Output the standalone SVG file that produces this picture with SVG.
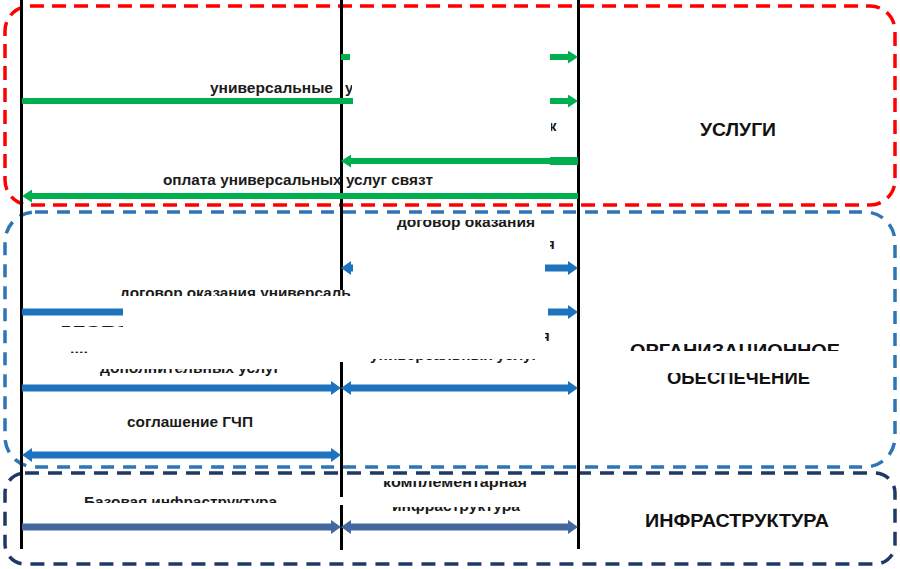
<svg xmlns="http://www.w3.org/2000/svg" width="900" height="569" viewBox="0 0 900 569">
<style>
.bg{fill:#ffffff}
.box{fill:none;stroke-width:3.5;stroke-dasharray:14 8}
.red{stroke:#ff0000}
.blue{stroke:#2e75b6;stroke-dasharray:13 9}
.navy{stroke:#1f3864;stroke-dasharray:14 9}
.vl{stroke:#000000;stroke-width:3}
.g{stroke:#00b050;stroke-width:6;fill:none}
.b{stroke:#1e73be;stroke-width:7;fill:none}
.n{stroke:#44679f;stroke-width:7;fill:none}
.cover{fill:#ffffff}
.t{font-family:"Liberation Sans",Arial,sans-serif;font-weight:bold;font-size:15px;fill:#1a1a1a}
.h{font-family:"Liberation Sans",Arial,sans-serif;font-weight:bold;font-size:18px;fill:#111111}
</style>
<defs>
<marker id="arrG" markerUnits="userSpaceOnUse" markerWidth="10" markerHeight="13" refX="2" refY="6.5" orient="auto-start-reverse"><path d="M0,0 L10,6.5 L0,13 z" fill="#00b050"/></marker>
<marker id="arrB" markerUnits="userSpaceOnUse" markerWidth="10" markerHeight="14" refX="2" refY="7" orient="auto-start-reverse"><path d="M0,0 L10,7 L0,14 z" fill="#1e73be"/></marker>
<marker id="arrN" markerUnits="userSpaceOnUse" markerWidth="10" markerHeight="14" refX="2" refY="7" orient="auto-start-reverse"><path d="M0,0 L10,7 L0,14 z" fill="#44679f"/></marker>
<clipPath id="c1"><rect x="340" y="70" width="12" height="40"/></clipPath>
<clipPath id="c2"><rect x="551" y="110" width="20" height="30"/></clipPath>
<clipPath id="c3"><rect x="380" y="220" width="170" height="12"/></clipPath>
<clipPath id="c4"><rect x="100" y="275" width="251" height="21"/></clipPath>
<clipPath id="c5"><rect x="50" y="310" width="73" height="17"/></clipPath>
<clipPath id="c6"><rect x="90" y="369" width="200" height="12"/></clipPath>
<clipPath id="c7"><rect x="360" y="359" width="190" height="10"/></clipPath>
<clipPath id="c8"><rect x="545" y="325" width="20" height="20"/></clipPath>
<clipPath id="c9"><rect x="620" y="330" width="230" height="21"/></clipPath>
<clipPath id="c10"><rect x="650" y="373" width="180" height="15"/></clipPath>
<clipPath id="c11"><rect x="70" y="485" width="220" height="18"/></clipPath>
<clipPath id="c12"><rect x="370" y="481" width="170" height="12"/></clipPath>
<clipPath id="c13"><rect x="380" y="507" width="150" height="10"/></clipPath>
<clipPath id="c14"><rect x="550" y="235" width="20" height="20"/></clipPath>
</defs>
<rect class="bg" x="0" y="0" width="900" height="569"/>

<g id="zone-uslugi">
<rect class="box red" x="5" y="6" width="890" height="199" rx="25"/>
</g>
<g id="zone-org">
<rect class="box blue" x="5" y="212" width="890" height="255" rx="30"/>
</g>
<g id="zone-infra">
<rect class="box navy" x="5" y="473" width="890" height="91" rx="20"/>
</g>

<g id="lanes">
<line class="vl" x1="21.5" y1="0" x2="21.5" y2="549"/>
<line class="vl" x1="341.5" y1="0" x2="341.5" y2="550"/>
<line class="vl" x1="578.5" y1="0" x2="578.5" y2="549"/>
</g>

<g id="connectors">
<line class="g" x1="341" y1="57" x2="570" y2="57" marker-end="url(#arrG)"/>
<line class="g" x1="22" y1="101" x2="570" y2="101" marker-end="url(#arrG)"/>
<line class="g" x1="578" y1="161" x2="349" y2="161" marker-end="url(#arrG)"/>
<line class="g" x1="550" y1="161" x2="578" y2="161" style="stroke-width:8"/>
<line class="g" x1="578" y1="196" x2="30" y2="196" marker-end="url(#arrG)"/>
<line class="b" x1="349" y1="268" x2="570" y2="268" marker-start="url(#arrB)" marker-end="url(#arrB)"/>
<line class="b" x1="22" y1="312" x2="570" y2="312" marker-end="url(#arrB)"/>
<line class="b" x1="22" y1="388" x2="333" y2="388" marker-end="url(#arrB)"/>
<line class="b" x1="349" y1="388" x2="570" y2="388" marker-start="url(#arrB)" marker-end="url(#arrB)"/>
<line class="b" x1="30" y1="455" x2="333" y2="455" marker-start="url(#arrB)" marker-end="url(#arrB)"/>
<line class="n" x1="22" y1="527" x2="333" y2="527" marker-end="url(#arrN)"/>
<line class="n" x1="349" y1="527" x2="570" y2="527" marker-start="url(#arrN)" marker-end="url(#arrN)"/>
</g>

<g id="covers">
<rect class="cover" x="350" y="49" width="200" height="17"/>
<rect class="cover" x="353" y="93" width="197" height="16"/>
<rect class="cover" x="353" y="259" width="192" height="18"/>
<rect class="cover" x="123" y="304" width="425" height="16"/>
<rect class="cover" x="338" y="290" width="8" height="72"/>
<rect class="cover" x="338" y="497" width="8" height="8"/>
</g>

<g id="labels-uslugi">
<text class="t" x="210" y="93" textLength="123" lengthAdjust="spacingAndGlyphs">универсальные</text>
<text class="t" x="345" y="93" clip-path="url(#c1)">у</text>
<text class="t" x="549" y="131" clip-path="url(#c2)">к</text>
<text class="t" x="163" y="185" textLength="270" lengthAdjust="spacingAndGlyphs">оплата универсальных услуг связт</text>
</g>
<g id="node-uslugi">
<text class="h" x="700" y="136" textLength="76" lengthAdjust="spacingAndGlyphs">УСЛУГИ</text>
</g>

<g id="labels-org">
<text class="t" x="397" y="227" textLength="138" lengthAdjust="spacingAndGlyphs" clip-path="url(#c3)">договор оказания</text>
<text class="t" x="546" y="249" clip-path="url(#c14)">я</text>
<text class="t" x="120" y="298" textLength="240" lengthAdjust="spacingAndGlyphs" clip-path="url(#c4)">договор оказания универсальн</text>
<text class="t" x="60" y="334" textLength="70" lengthAdjust="spacingAndGlyphs" clip-path="url(#c5)">глава</text>
<text class="t" x="70" y="353" textLength="18" lengthAdjust="spacingAndGlyphs" style="font-size:9px">....</text>
<text class="t" x="100" y="373" textLength="180" lengthAdjust="spacingAndGlyphs" clip-path="url(#c6)">дополнительных услуг</text>
<text class="t" x="370" y="360" textLength="168" lengthAdjust="spacingAndGlyphs" clip-path="url(#c7)">универсальных услуг</text>
<text class="t" x="541" y="341" clip-path="url(#c8)">я</text>
<text class="t" x="127" y="427" textLength="126" lengthAdjust="spacingAndGlyphs">соглашение ГЧП</text>
</g>
<g id="node-org">
<text class="h" x="630" y="357" textLength="210" lengthAdjust="spacingAndGlyphs" clip-path="url(#c9)">ОРГАНИЗАЦИОННОЕ</text>
<text class="h" x="667" y="384" textLength="143" lengthAdjust="spacingAndGlyphs" clip-path="url(#c10)">ОБЕСПЕЧЕНИЕ</text>
</g>

<g id="labels-infra">
<text class="t" x="84" y="507" textLength="193" lengthAdjust="spacingAndGlyphs" clip-path="url(#c11)">Базовая инфраструктура</text>
<text class="t" x="383" y="487" textLength="144" lengthAdjust="spacingAndGlyphs" clip-path="url(#c12)">комплементарная</text>
<text class="t" x="392" y="511" textLength="128" lengthAdjust="spacingAndGlyphs" clip-path="url(#c13)">инфраструктура</text>
</g>
<g id="node-infra">
<text class="h" x="645" y="527" textLength="184" lengthAdjust="spacingAndGlyphs">ИНФРАСТРУКТУРА</text>
</g>
</svg>
